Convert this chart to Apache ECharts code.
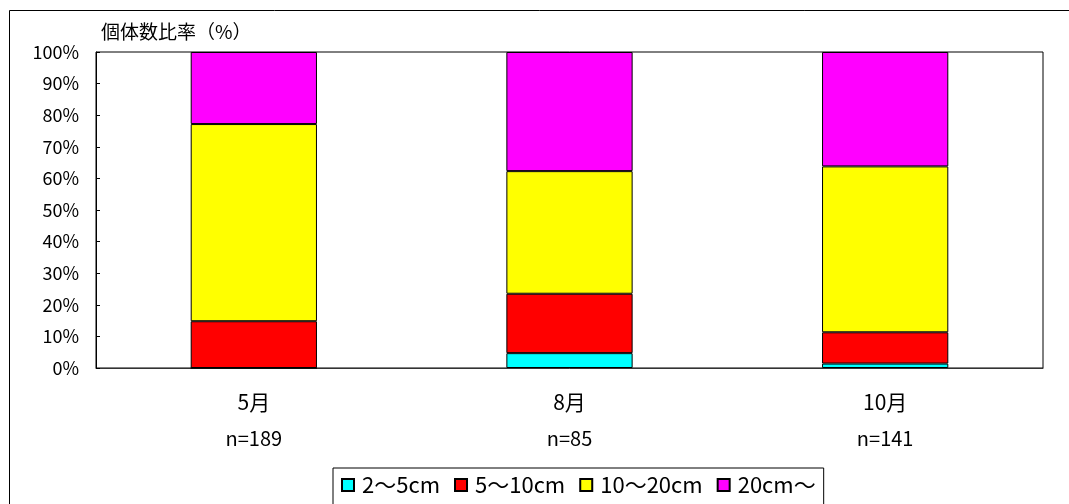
<!DOCTYPE html>
<html><head><meta charset="utf-8">
<script src="https://cdn.jsdelivr.net/npm/echarts@6/dist/echarts.min.js"></script>
<style>html,body{margin:0;padding:0;background:#fff}#c{width:1069px;height:504px}</style>
</head><body><div id="c"></div>
<script>
const categories = ['5月', '8月', '10月'];
const sampleSizes = ['n=189', 'n=85', 'n=141'];
const seriesNames = ['2～5cm', '5～10cm', '10～20cm', '20cm～'];
const s2to5 = [0, 4.7, 1.4];
const s5to10 = [14.8, 18.8, 9.9];
const s10to20 = [62.4, 38.8, 52.5];
const s20up = [22.8, 37.7, 36.2];
const colors = ['#00FFFF', '#FF0000', '#FFFF00', '#FF00FF'];
const yTicks = [0, 10, 20, 30, 40, 50, 60, 70, 80, 90, 100];

const font = '"Noto Sans CJK JP", "Noto Sans", sans-serif';
const chart = echarts.init(document.getElementById('c'));
const values = [s2to5, s5to10, s10to20, s20up];
chart.setOption({
  animation: false,
  textStyle: { fontFamily: font, color: '#000' },
  graphic: [{
    type: 'rect', shape: { x: 9.5, y: 10.5, width: 1100, height: 600 },
    style: { fill: 'none', stroke: '#000', lineWidth: 1 }, silent: true
  }, {
    type: 'text', left: 101, top: 22,
    style: { text: '個体数比率（%）', font: '19px ' + font, fill: '#000' }
  }],
  legend: {
    left: 333, top: 468,
    data: seriesNames,
    icon: 'rect', itemWidth: 12, itemHeight: 12, itemGap: 14,
    borderColor: '#000', borderWidth: 1, padding: [6, 8, 20, 8],
    textStyle: { fontFamily: font, fontSize: 22, color: '#000', padding: [0, 0, 0, 3] }
  },
  grid: { left: 96, right: 26, top: 52, bottom: 136, show: true, borderColor: '#000', borderWidth: 1 },
  xAxis: {
    type: 'category', data: categories,
    axisLine: { lineStyle: { color: '#333', width: 1 } },
    axisTick: { inside: true, length: 8, lineStyle: { color: '#333' } },
    axisLabel: {
      margin: 17,
      formatter: (v, i) => '{a|' + v + '}\n{b|' + sampleSizes[i] + '}',
      rich: {
        a: { fontFamily: font, fontSize: 21, lineHeight: 34, color: '#000' },
        b: { fontFamily: font, fontSize: 20, lineHeight: 38, color: '#000' }
      }
    }
  },
  yAxis: {
    type: 'value', min: yTicks[0], max: yTicks[yTicks.length - 1], interval: 10,
    axisLine: { show: true, lineStyle: { color: '#000' } },
    axisTick: { show: true, inside: true, length: 4, lineStyle: { color: '#000' } },
    splitLine: { show: false },
    axisLabel: { formatter: '{value}%', fontSize: 18, color: '#000', margin: 17, fontFamily: font }
  },
  series: seriesNames.map((name, k) => ({
    name, type: 'bar', stack: 'total', barWidth: '40%',
    data: values[k],
    itemStyle: { color: colors[k], borderColor: '#000', borderWidth: 1 }
  }))
});
</script></body></html>
